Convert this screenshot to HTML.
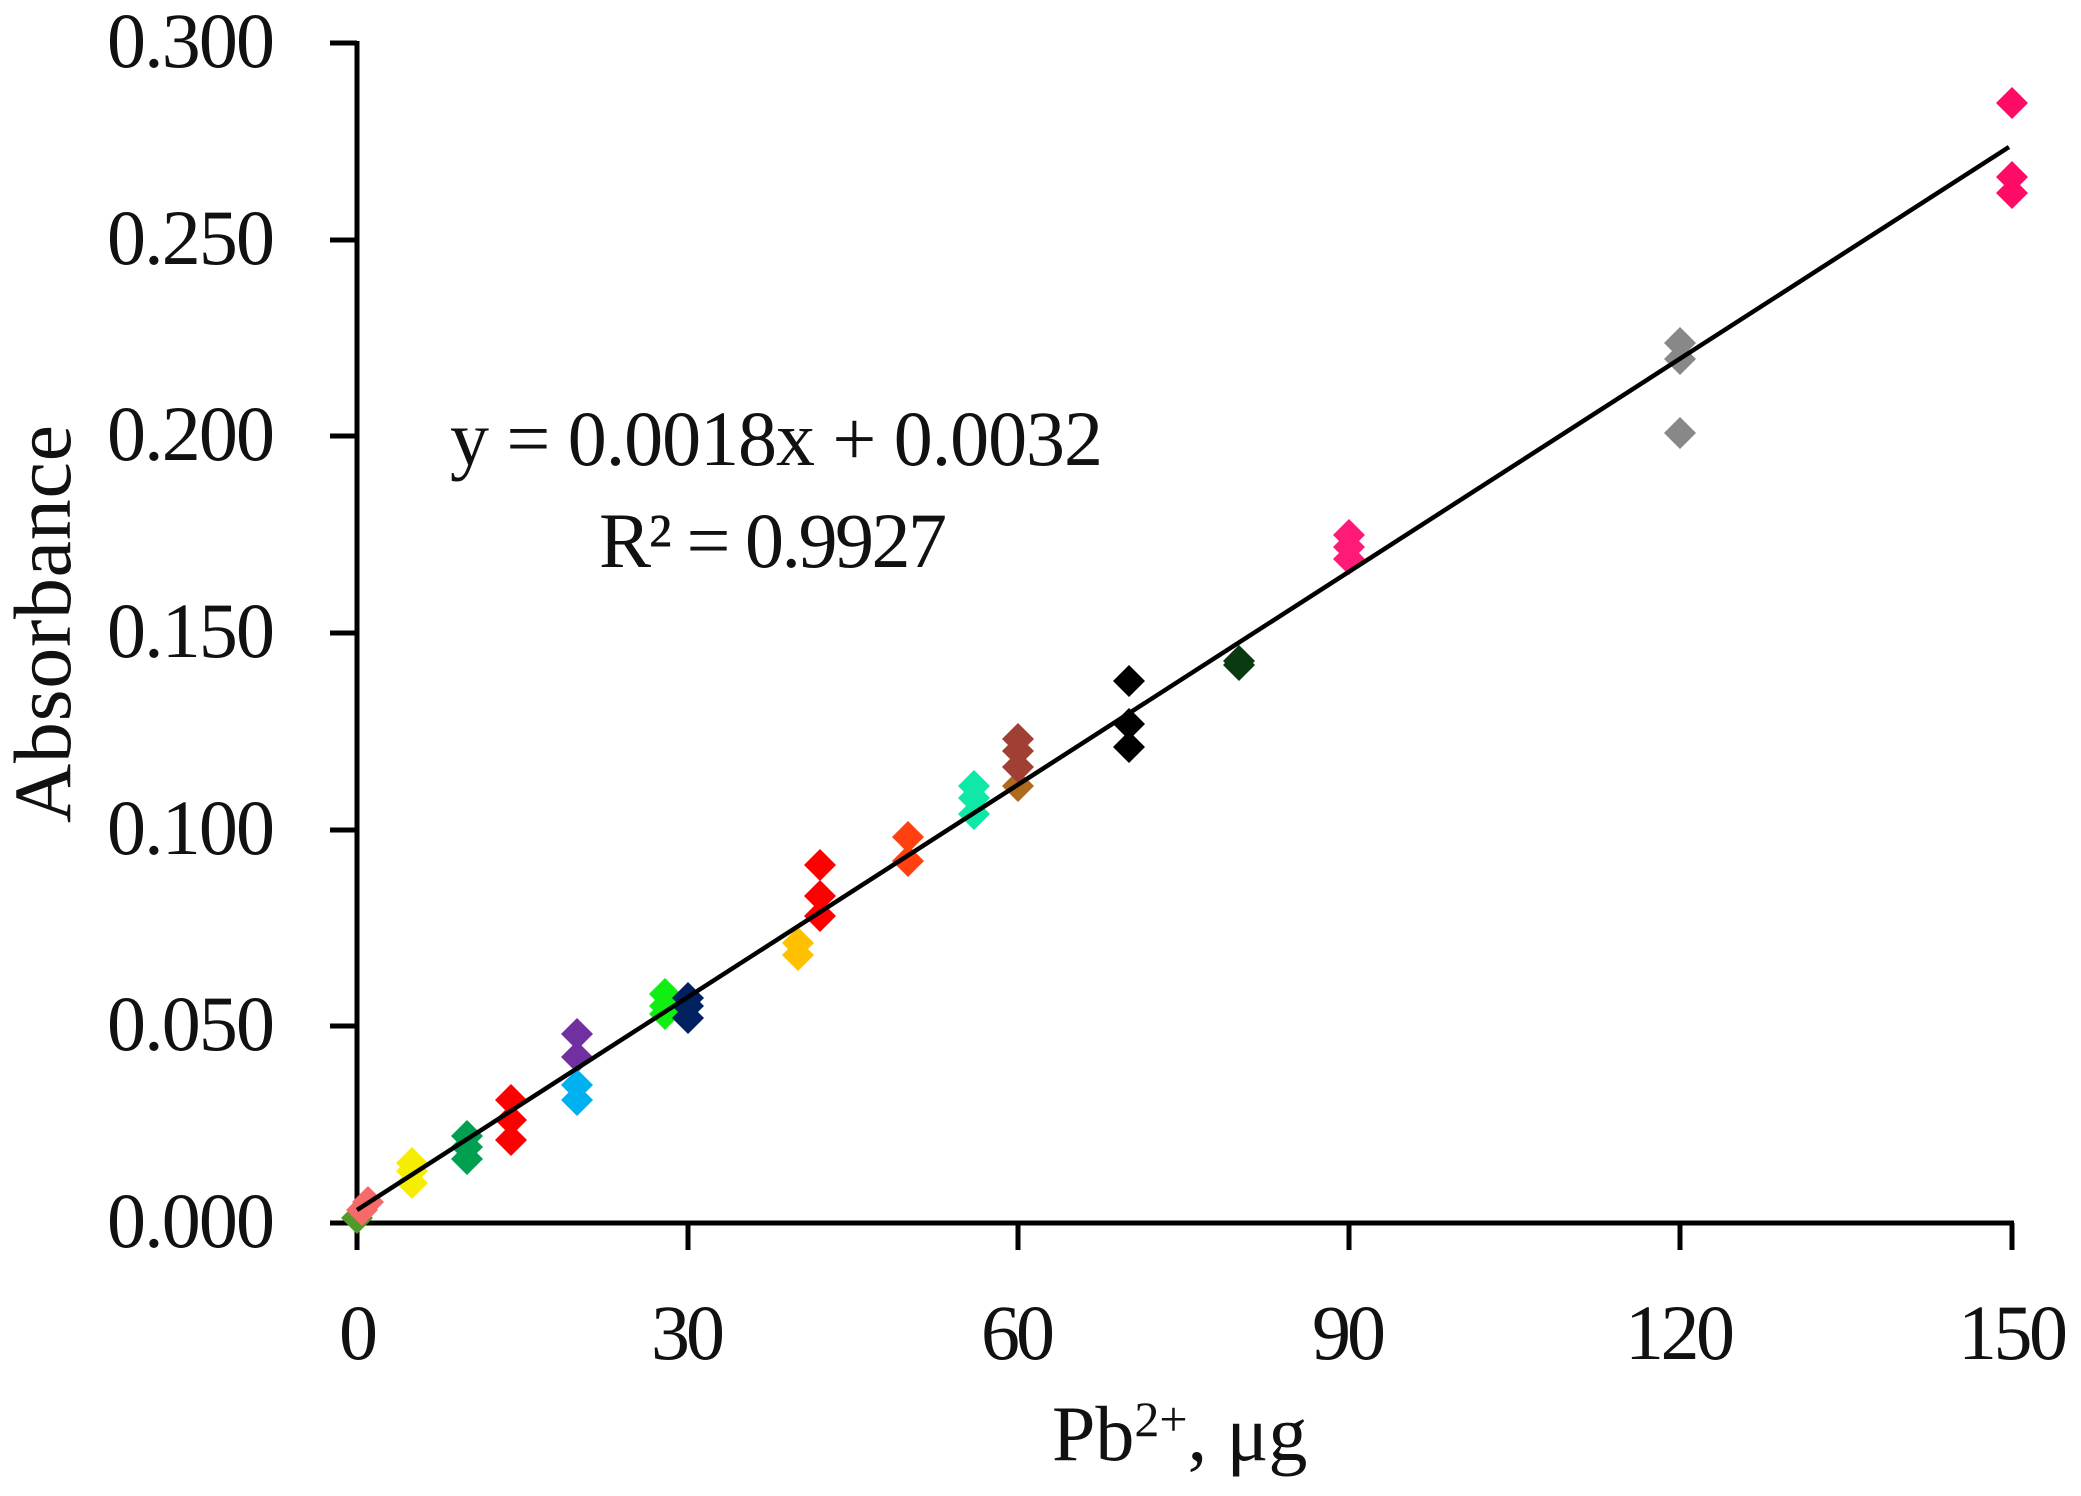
<!DOCTYPE html>
<html><head><meta charset="utf-8"><style>
html,body{margin:0;padding:0;background:#fff;}
svg{display:block;}
text{font-family:"Liberation Serif",serif;fill:#111;}
</style></head><body>
<svg width="2081" height="1496" viewBox="0 0 2081 1496" xmlns="http://www.w3.org/2000/svg">
<defs><path id="d" d="M0,-16 L16,0 L0,16 L-16,0Z"/></defs>
<g stroke="#000" stroke-width="5" fill="none">
<line x1="357" y1="41" x2="357" y2="1225"/>
<line x1="330" y1="1223" x2="2014" y2="1223"/>
<line x1="330" y1="43" x2="357" y2="43"/>
<line x1="330" y1="240" x2="357" y2="240"/>
<line x1="330" y1="436" x2="357" y2="436"/>
<line x1="330" y1="633" x2="357" y2="633"/>
<line x1="330" y1="830" x2="357" y2="830"/>
<line x1="330" y1="1026" x2="357" y2="1026"/>
<line x1="357" y1="1223" x2="357" y2="1250"/>
<line x1="688" y1="1223" x2="688" y2="1250"/>
<line x1="1018" y1="1223" x2="1018" y2="1250"/>
<line x1="1349" y1="1223" x2="1349" y2="1250"/>
<line x1="1680" y1="1223" x2="1680" y2="1250"/>
<line x1="2012" y1="1223" x2="2012" y2="1250"/>
</g>
<g font-size="78" text-anchor="end">
<text x="275" y="67" textLength="168">0.300</text>
<text x="275" y="264" textLength="168">0.250</text>
<text x="275" y="460" textLength="168">0.200</text>
<text x="275" y="657" textLength="168">0.150</text>
<text x="275" y="854" textLength="168">0.100</text>
<text x="275" y="1050" textLength="168">0.050</text>
<text x="275" y="1247" textLength="168">0.000</text>
</g>
<g font-size="78">
<text x="339" y="1359" textLength="36">0</text>
<text x="651" y="1359" textLength="74">30</text>
<text x="981" y="1359" textLength="74">60</text>
<text x="1312" y="1359" textLength="74">90</text>
<text x="1625" y="1359" textLength="110">120</text>
<text x="1958" y="1359" textLength="110">150</text>
<text x="1052" y="1460">Pb<tspan font-size="50" dy="-24">2+</tspan><tspan dy="24">, μg</tspan></text>
<text x="450" y="465" textLength="653">y = 0.0018x + 0.0032</text>
<text x="599" y="567" textLength="348">R² = 0.9927</text>
<text transform="translate(70,823) rotate(-90)" font-size="82" textLength="398">Absorbance</text>
</g>
<g>
<use href="#d" x="357" y="1218" fill="#4f9a2a"/>
<use href="#d" x="362" y="1210" fill="#f86a6a"/>
<use href="#d" x="368" y="1202" fill="#f86a6a"/>
<use href="#d" x="412" y="1183" fill="#f5ee00"/>
<use href="#d" x="412" y="1171" fill="#f5ee00"/>
<use href="#d" x="412" y="1163" fill="#f5ee00"/>
<use href="#d" x="467" y="1159" fill="#00a050"/>
<use href="#d" x="467" y="1147" fill="#00a050"/>
<use href="#d" x="467" y="1136" fill="#00a050"/>
<use href="#d" x="511" y="1140" fill="#ff0000"/>
<use href="#d" x="511" y="1120" fill="#ff0000"/>
<use href="#d" x="511" y="1100" fill="#ff0000"/>
<use href="#d" x="577" y="1034" fill="#7030a0"/>
<use href="#d" x="577" y="1057" fill="#7030a0"/>
<use href="#d" x="577" y="1085" fill="#00b0f0"/>
<use href="#d" x="577" y="1100" fill="#00b0f0"/>
<use href="#d" x="665" y="1014" fill="#11ee11"/>
<use href="#d" x="665" y="1006" fill="#11ee11"/>
<use href="#d" x="665" y="994" fill="#11ee11"/>
<use href="#d" x="688" y="1018" fill="#002060"/>
<use href="#d" x="688" y="1006" fill="#002060"/>
<use href="#d" x="688" y="998" fill="#002060"/>
<use href="#d" x="798" y="955" fill="#ffc000"/>
<use href="#d" x="798" y="943" fill="#ffc000"/>
<use href="#d" x="820" y="916" fill="#ff0000"/>
<use href="#d" x="820" y="896" fill="#ff0000"/>
<use href="#d" x="820" y="865" fill="#ff0000"/>
<use href="#d" x="908" y="861" fill="#ff4010"/>
<use href="#d" x="908" y="837" fill="#ff4010"/>
<use href="#d" x="974" y="814" fill="#10e8a8"/>
<use href="#d" x="974" y="798" fill="#10e8a8"/>
<use href="#d" x="974" y="786" fill="#10e8a8"/>
<use href="#d" x="1018" y="786" fill="#b06a20"/>
<use href="#d" x="1018" y="767" fill="#a04035"/>
<use href="#d" x="1018" y="751" fill="#a04035"/>
<use href="#d" x="1018" y="739" fill="#a04035"/>
<use href="#d" x="1129" y="747" fill="#000"/>
<use href="#d" x="1129" y="724" fill="#000"/>
<use href="#d" x="1129" y="681" fill="#000"/>
<use href="#d" x="1239" y="665" fill="#0a3a10"/>
<use href="#d" x="1239" y="661" fill="#0a3a10"/>
<use href="#d" x="1349" y="559" fill="#ff1a78"/>
<use href="#d" x="1349" y="547" fill="#ff1a78"/>
<use href="#d" x="1349" y="535" fill="#ff1a78"/>
<use href="#d" x="1680" y="433" fill="#888"/>
<use href="#d" x="1680" y="359" fill="#888"/>
<use href="#d" x="1680" y="343" fill="#888"/>
<use href="#d" x="2012" y="193" fill="#ff0a64"/>
<use href="#d" x="2012" y="177" fill="#ff0a64"/>
<use href="#d" x="2012" y="103" fill="#ff0a64"/>
</g>
<line x1="357" y1="1210" x2="2009" y2="147" stroke="#000" stroke-width="4.5"/>
</svg>
</body></html>
